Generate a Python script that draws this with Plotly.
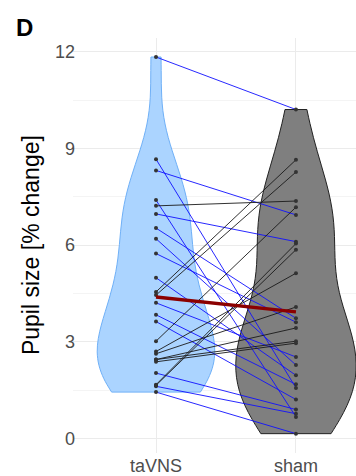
import numpy as np
import plotly.graph_objects as go

# Paired pupil responses (% change), one entry per participant
conditions = ["taVNS", "sham"]
tavns = [11.84, 8.67, 8.32, 7.40, 7.22, 6.97, 6.53, 6.20, 5.74, 4.99,
         4.55, 4.45, 4.21, 3.84, 3.63, 3.02, 2.70, 2.63, 2.45, 2.45,
         2.38, 2.03, 1.67, 1.65, 1.62, 1.44]
sham = [10.21, 1.57, 6.94, 0.67, 7.37, 6.11, 3.73, 2.28, 3.61, 1.96,
        8.65, 8.27, 2.53, 1.68, 1.21, 7.18, 5.13, 4.08, 3.43, 3.02,
        2.96, 0.90, 6.05, 5.86, 0.77, 0.15]
# Group-level estimates (dark red line)
group_estimate = [4.39, 3.93]
y_ticks = [0, 3, 6, 9, 12]

xpos = {"taVNS": 1, "sham": 2}


def nrd0(v):
    v = np.asarray(v, dtype=float)
    iqr = np.subtract(*np.percentile(v, [75, 25]))
    lo = min(np.std(v, ddof=1), iqr / 1.34)
    return 0.9 * lo * len(v) ** -0.2


fig = go.Figure()

fig.add_trace(go.Violin(
    x=[xpos["taVNS"]] * len(tavns), y=tavns, name="taVNS",
    fillcolor="#abd4ff", line=dict(color="#6fb0f7", width=1),
    points=False, spanmode="hard", bandwidth=nrd0(tavns),
    width=0.84, scalemode="width", hoverinfo="skip", opacity=1,
))
fig.add_trace(go.Violin(
    x=[xpos["sham"]] * len(sham), y=sham, name="sham",
    fillcolor="#7f7f7f", line=dict(color="#222222", width=1),
    points=False, spanmode="hard", bandwidth=nrd0(sham),
    width=0.86, scalemode="width", hoverinfo="skip", opacity=1,
))

# Connecting lines: blue where the response dropped, black where it rose
for a, b in zip(tavns, sham):
    col = "#1010ff" if b < a else "#1a1a1a"
    fig.add_trace(go.Scatter(
        x=[xpos["taVNS"], xpos["sham"]], y=[a, b], mode="lines",
        line=dict(color=col, width=0.9), hoverinfo="skip",
    ))

fig.add_trace(go.Scatter(
    x=[xpos["taVNS"]] * len(tavns) + [xpos["sham"]] * len(sham),
    y=tavns + sham, mode="markers",
    marker=dict(color="#333333", size=4), hoverinfo="skip",
))

fig.add_trace(go.Scatter(
    x=[xpos[c] for c in conditions], y=group_estimate, mode="lines",
    line=dict(color="#8b0000", width=3.5), hoverinfo="skip",
))

fig.update_layout(
    width=356, height=476,
    margin=dict(l=73, r=0, t=38, b=21),
    paper_bgcolor="white", plot_bgcolor="white",
    showlegend=False, violinmode="overlay",
    font=dict(family="Liberation Sans, Arial, sans-serif", color="#4d4d4d"),
    xaxis=dict(
        range=[0.407, 2.429], tickvals=[xpos[c] for c in conditions],
        ticktext=conditions, tickfont=dict(size=18, color="#4d4d4d"),
        showgrid=True, gridcolor="#ebebeb", gridwidth=1,
        zeroline=False, showline=False, ticks="", ticklabelstandoff=0,
    ),
    yaxis=dict(
        range=[-0.45, 12.43], tickvals=y_ticks,
        tickfont=dict(size=18, color="#4d4d4d"),
        showgrid=True, gridcolor="#ebebeb", gridwidth=1,
        minor=dict(dtick=1.5, tick0=0, showgrid=True, gridcolor="#f4f4f4", gridwidth=1),
        zeroline=False, showline=False, ticks="", ticklabelstandoff=-3,
    ),
    annotations=[
        dict(text="Pupil size [% change]", textangle=-90,
             xref="paper", yref="paper", x=-0.15, y=0.5,
             xanchor="center", yanchor="middle", showarrow=False,
             font=dict(size=23, color="black")),
        dict(text="<b>D</b>", xref="paper", yref="paper",
             x=-0.21, y=1.0, xanchor="left", yanchor="bottom", yshift=-5,
             showarrow=False, font=dict(size=24, color="black")),
    ],
)

fig.write_html("out.html")
